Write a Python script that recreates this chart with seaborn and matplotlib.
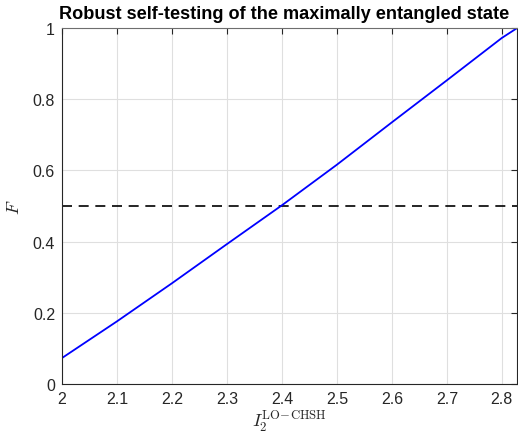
import numpy as np
import pandas as pd
import matplotlib
matplotlib.use("Agg")
import matplotlib.pyplot as plt
import seaborn as sns

# Data
I2_values = [2.0, 2.1, 2.2, 2.3, 2.4, 2.5, 2.6, 2.7, 2.8, 2.828]
F_values = [0.073, 0.176, 0.283, 0.393, 0.502, 0.616, 0.735, 0.853, 0.972, 1.0]
threshold_x = [2.0, 2.828]
threshold_y = [0.5, 0.5]
x_ticks = [2.0, 2.1, 2.2, 2.3, 2.4, 2.5, 2.6, 2.7, 2.8]
x_tick_labels = ["2", "2.1", "2.2", "2.3", "2.4", "2.5", "2.6", "2.7", "2.8"]
y_ticks = [0, 0.2, 0.4, 0.6, 0.8, 1.0]
y_tick_labels = ["0", "0.2", "0.4", "0.6", "0.8", "1"]

sns.set_style("white")
plt.rcParams["font.family"] = ["Liberation Sans", "DejaVu Sans"]
plt.rcParams["mathtext.fontset"] = "cm"

fig = plt.figure(figsize=(5.18, 4.39), dpi=100)
ax = fig.add_axes([0.1197, 0.123, 0.8793, 0.811])

df = pd.DataFrame({"I2": I2_values, "F": F_values})
dfh = pd.DataFrame({"x": threshold_x, "y": threshold_y})

sns.lineplot(data=dfh, x="x", y="y", ax=ax, color="black", linewidth=1.2,
             linestyle=(0, (6, 4)))
sns.lineplot(data=df, x="I2", y="F", ax=ax, color="#0000ff", linewidth=1.3)

ax.set_xlim(2.0, 2 * np.sqrt(2))
ax.set_ylim(0, 1)
ax.set_xticks(x_ticks)
ax.set_xticklabels(x_tick_labels)
ax.set_yticks(y_ticks)
ax.set_yticklabels(y_tick_labels)

ax.grid(True, color="#dfdfdf", linewidth=0.8)
ax.set_axisbelow(True)
for s in ax.spines.values():
    s.set_visible(True)
    s.set_color("#262626")
    s.set_linewidth(0.8)
ax.spines["top"].set_color("#6e6e6e")
ax.tick_params(direction="in", length=4, width=0.8, colors="#262626",
               labelsize=11.5, top=True, right=True, labelcolor="#262626", pad=5)

ax.set_xlabel(r"$I_2^{\mathrm{LO\!-\!CHSH}}$", fontsize=13, labelpad=2)
ax.set_ylabel(r"$F$", fontsize=13, labelpad=7)
ax.set_title("Robust self-testing of the maximally entangled state",
             fontsize=13.1, fontweight="bold", pad=7, color="black", x=0.487)

fig.savefig("out.png", dpi=100)
